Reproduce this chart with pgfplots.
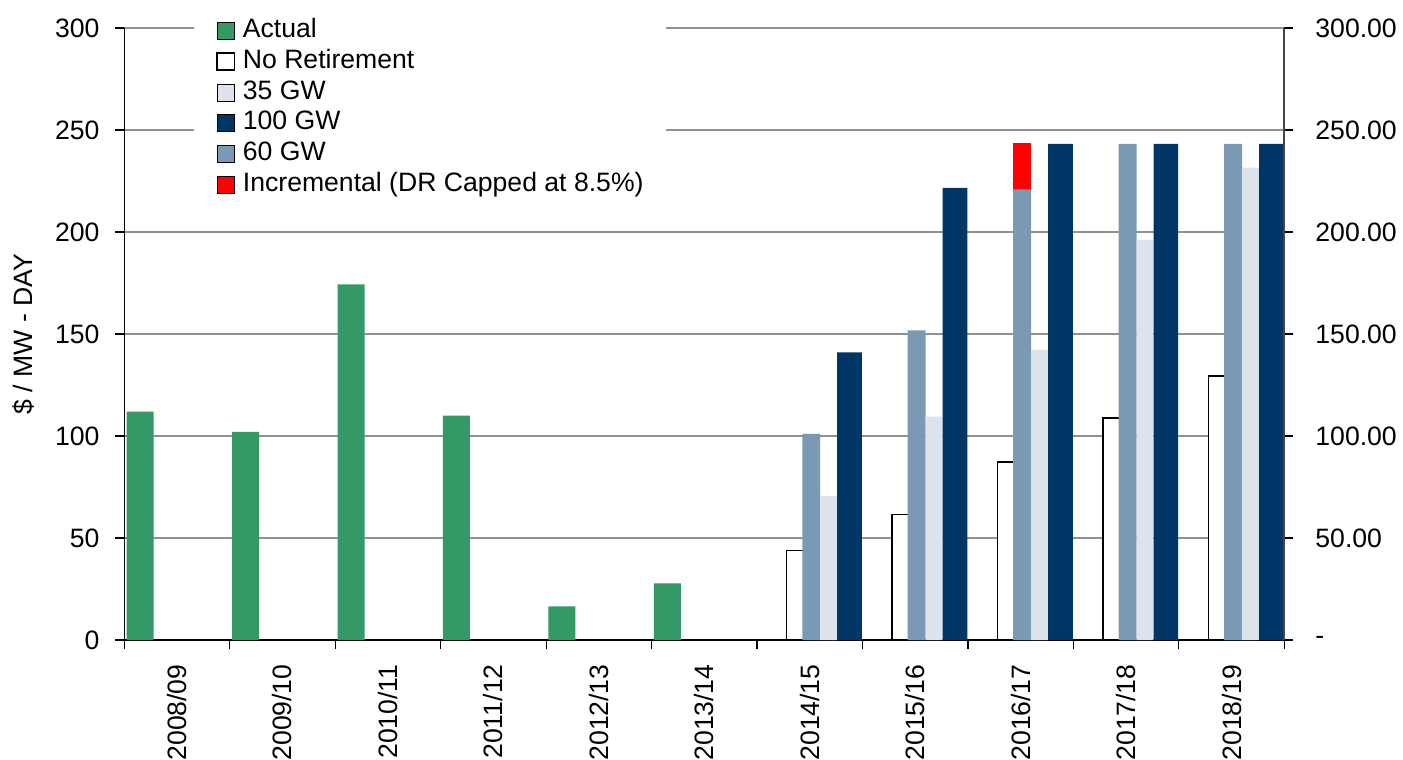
\documentclass[border=0pt]{standalone}
\usepackage{fontspec}
\setmainfont{Liberation Sans}
\usepackage{pgfplots}
\pgfplotsset{compat=1.18}
\usepackage{pgfplotstable}

\definecolor{actualgreen}{RGB}{51,153,102}
\definecolor{gwsixty}{RGB}{122,153,181}
\definecolor{gwthirtyfive}{RGB}{220,227,234}
\definecolor{gwhundred}{RGB}{0,54,102}
\definecolor{gridgray}{RGB}{145,145,145}
\definecolor{rightaxis}{RGB}{70,70,70}

\newcommand\chartfont{\fontsize{13.3pt}{15.5pt}\selectfont}

% Cleared capacity prices, $/MW-day
\pgfplotstableread{
x actual
0 111.92
1 102.04
2 174.29
3 110.00
4 16.46
5 27.73
}\actualdata

% Projected prices by retirement scenario
\pgfplotstableread{
x noret gw35 gw60 gw100
6 44.0 70.7 101.1 141.0
7 61.4 109.5 151.8 221.6
8 87.2 142.2 220.9 243.2
9 108.8 196.2 243.2 243.2
10 129.5 231.6 243.2 243.2
}\scenariodata

% Increment on top of the 60 GW case when DR is capped
\pgfplotstableread{
x base incr
8 220.9 22.6
}\incrdata

\begin{document}
\begin{tikzpicture}
\path[use as bounding box] (-62.15pt,-60pt) rectangle (639.35pt,320pt);
\begin{axis}[
  at={(0pt,0pt)}, anchor=south west,
  scale only axis, width=580pt, height=306pt,
  xmin=-0.5, xmax=10.5, ymin=0, ymax=300,
  axis x line*=bottom, axis y line*=left,
  axis line style={-, black, line width=0.7pt},
  xtick={0,...,10},
  xticklabels={2008/09,2009/10,2010/11,2011/12,2012/13,2013/14,2014/15,2015/16,2016/17,2017/18,2018/19},
  minor xtick={-0.5,0.5,...,10.5},
  major x tick style={draw=none},
  ytick={0,50,...,300},
  yticklabels={0,50,100,150,200,250,300},
  tick align=outside,
  major tick length=4.5pt, minor tick length=4.5pt,
  tick style={black, line width=0.6pt},
  ymajorgrids, grid style={gridgray, line width=0.6pt},
  tick label style={font=\chartfont},
  /pgf/number format/assume math mode=true,
  xticklabel style={rotate=90, anchor=east, inner sep=0pt},
  xticklabel shift=7.5pt,
  yticklabel style={anchor=east, inner sep=0pt},
  yticklabel shift=7.7pt,
  ylabel={\$ / MW - DAY},
  ylabel style={font=\chartfont, at={(axis description cs:-0.0787,0.5)}, anchor=base},
  legend style={at={(axis description cs:0.0601,1.0292)}, anchor=north west,
    fill=white, draw=none, inner xsep=11pt, inner ysep=4pt,
    row sep=3.1pt, column sep=3.8pt,
    nodes={inner sep=0pt, text height=9.5pt, text depth=2.8pt},
    font=\chartfont},
  legend cell align=left,
  legend image code/.code={\draw[#1] (0pt,-4.25pt) rectangle (8.75pt,4.25pt);},
]
\addplot[ybar, forget plot, fill=actualgreen, draw=none, bar width=0.256, bar shift=-0.350]
  table[x=x, y=actual] {\actualdata};
\addplot[ybar, forget plot, fill=white, draw=black, line width=0.7pt, bar width=0.256, bar shift=-0.092]
  table[x=x, y=noret] {\scenariodata};
\addplot[ybar, forget plot, fill=red, draw=none, bar width=0.170, bar shift=0.0138]
  table[x=x, y expr=\thisrow{base}+\thisrow{incr}] {\incrdata};
\addplot[ybar, forget plot, fill=gwsixty, draw=none, bar width=0.170, bar shift=0.0138]
  table[x=x, y=gw60] {\scenariodata};
\addplot[ybar, forget plot, fill=gwthirtyfive, draw=none, bar width=0.161, bar shift=0.179]
  table[x=x, y=gw35] {\scenariodata};
\addplot[ybar, forget plot, fill=gwhundred, draw=none, bar width=0.234, bar shift=0.377]
  table[x=x, y=gw100] {\scenariodata};

\addlegendimage{fill=actualgreen, draw=none}
\addlegendentry{Actual}
\addlegendimage{fill=white, draw=black, line width=0.7pt}
\addlegendentry{No Retirement}
\addlegendimage{fill=gwthirtyfive, draw=none}
\addlegendentry{35 GW}
\addlegendimage{fill=gwhundred, draw=none}
\addlegendentry{100 GW}
\addlegendimage{fill=gwsixty, draw=none}
\addlegendentry{60 GW}
\addlegendimage{fill=red, draw=none}
\addlegendentry{Incremental (DR Capped at 8.5\%)}
\end{axis}

% secondary scale on the right
\begin{axis}[
  at={(0pt,0pt)}, anchor=south west,
  scale only axis, width=580pt, height=306pt,
  xmin=-0.5, xmax=10.5, ymin=0, ymax=300,
  axis x line=none, axis y line*=right,
  y axis line style={-, rightaxis, line width=1pt},
  ytick={0,50,...,300},
  yticklabels={-,50.00,100.00,150.00,200.00,250.00,300.00},
  tick align=outside, major tick length=4.5pt,
  tick style={black, line width=0.6pt},
  /pgf/number format/assume math mode=true,
  yticklabel style={font=\chartfont, anchor=west, inner sep=0pt},
  yticklabel shift=10.85pt,
]
\end{axis}
\end{tikzpicture}
\end{document}
